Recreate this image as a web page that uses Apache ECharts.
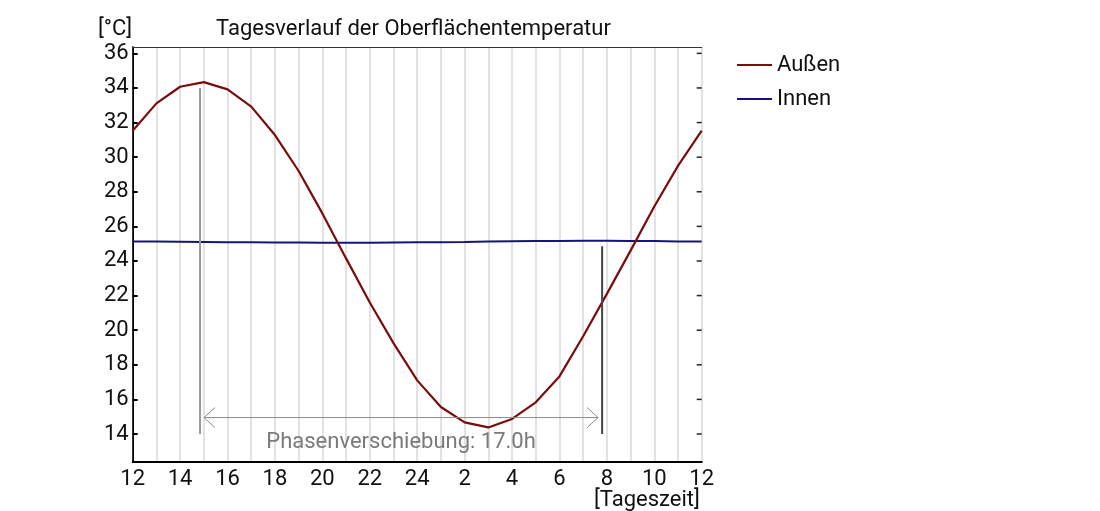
<!DOCTYPE html>
<html>
<head>
<meta charset="utf-8">
<script src="https://cdn.jsdelivr.net/npm/echarts@6/dist/echarts.min.js"></script>
<style>
html, body { margin: 0; padding: 0; background: #fff; }
#chart { width: 1100px; height: 511px; }
</style>
</head>
<body>
<div id="chart"></div>
<script>
// Stunden ab 12 Uhr (0 = 12 Uhr, 24 = 12 Uhr am Folgetag)
var hours = [0, 1, 2, 3, 4, 5, 6, 7, 8, 9, 10, 11, 12, 13, 14, 15, 16, 17, 18, 19, 20, 21, 22, 23, 24];
var aussen = [31.53, 33.11, 34.07, 34.34, 33.92, 32.92, 31.28, 29.2, 26.75, 24.15, 21.6, 19.25, 17.1,
              15.56, 14.67, 14.38, 14.87, 15.83, 17.33, 19.65, 22.1, 24.6, 27.15, 29.5, 31.53];
var innen = [25.12, 25.12, 25.11, 25.1, 25.09, 25.08, 25.07, 25.07, 25.06, 25.06, 25.06, 25.07, 25.08,
             25.09, 25.1, 25.12, 25.14, 25.15, 25.16, 25.17, 25.17, 25.16, 25.15, 25.13, 25.12];
var yTicks = [14, 16, 18, 20, 22, 24, 26, 28, 30, 32, 34, 36];

// Phasenverschiebung (Maximum aussen -> Durchgang innen)
var phaseStart = 2.84;
var phaseEnd = 19.8;
var phaseTop = [34, 24.85];
var phaseBottom = 14;
var arrowY = 14.95;
var phaseLabelY = 13.5;
var phaseText = 'Phasenverschiebung: 17.0h';

var font = 'Roboto, "Noto Sans", sans-serif';
var fs = 22;

function hourLabel(v) {
    if (v % 2) return '';
    var h = 12 + v;
    if (h > 24) h -= 24;
    return String(h);
}

var chart = echarts.init(document.getElementById('chart'));
chart.setOption({
    animation: false,
    backgroundColor: '#fff',
    textStyle: { fontFamily: font },
    title: {
        text: 'Tagesverlauf der Oberflächentemperatur',
        left: 216,
        top: 18,
        padding: 0,
        textStyle: { fontSize: fs, fontWeight: 'normal', color: '#111', fontFamily: font }
    },
    legend: {
        orient: 'vertical',
        left: 737,
        top: 54,
        padding: 0,
        icon: 'rect',
        itemWidth: 35,
        itemHeight: 2,
        itemGap: 12,
        data: ['Außen', 'Innen'],
        textStyle: { fontSize: fs, color: '#111', fontFamily: font }
    },
    graphic: [
        { type: 'text', left: 98, top: 18, style: { text: '[°C]', font: fs + 'px ' + font, fill: '#111' } },
        { type: 'text', left: 594, top: 489, style: { text: '[Tageszeit]', font: fs + 'px ' + font, fill: '#111' } }
    ],
    grid: { left: 132.7, right: 398.3, top: 47.3, bottom: 49.3 },
    xAxis: [
        {
            type: 'value', min: 0, max: 24, interval: 1,
            axisLine: { lineStyle: { color: '#000', width: 2 } },
            axisTick: { show: false },
            axisLabel: { formatter: hourLabel, fontSize: fs, color: '#111', margin: 7 },
            splitLine: { show: true, lineStyle: { color: '#d9d9d9', width: 1.5 } }
        },
        {
            type: 'value', min: 0, max: 24, position: 'top',
            axisLine: { show: true, lineStyle: { color: '#333', width: 1 } },
            axisTick: { show: false }, axisLabel: { show: false }, splitLine: { show: false }
        }
    ],
    yAxis: [
        {
            type: 'value', min: 12.4, max: 36.35,
            axisLine: { show: true, lineStyle: { color: '#000', width: 2 } },
            axisTick: { show: true, inside: true, length: 5, customValues: yTicks, lineStyle: { color: '#000', width: 2 } },
            axisLabel: { customValues: yTicks, fontSize: fs, color: '#111', margin: 4 },
            splitLine: { show: false }
        },
        {
            type: 'value', min: 12.4, max: 36.35, position: 'right',
            axisLine: { show: true, lineStyle: { color: '#333', width: 1 } },
            axisTick: { show: false },
            axisLabel: { show: false },
            splitLine: { show: false }
        }
    ],
    series: [
        {
            name: 'Innen', type: 'line', symbol: 'none',
            lineStyle: { color: '#14147a', width: 2 }, itemStyle: { color: '#14147a' },
            data: hours.map(function (h, i) { return [h, innen[i]]; })
        },
        {
            name: 'Außen', type: 'line', symbol: 'none',
            lineStyle: { color: '#7a0c0c', width: 2.2 }, itemStyle: { color: '#7a0c0c' },
            data: hours.map(function (h, i) { return [h, aussen[i]]; }),
            z: 3
        },
        {
            // Ticks am rechten Rahmen
            name: 'rightTicks', type: 'custom', silent: true, z: 5,
            data: yTicks.map(function (v) { return [24, v]; }),
            renderItem: function (params, api) {
                var p = api.coord([api.value(0), api.value(1)]);
                return { type: 'line', shape: { x1: p[0] - 5, y1: p[1], x2: p[0], y2: p[1] }, style: { stroke: '#222', lineWidth: 1.5 } };
            }
        },
        {
            name: 'phase', type: 'custom', silent: true, z: 4,
            data: [[phaseStart, phaseEnd]],
            renderItem: function (params, api) {
                var a = api.coord([phaseStart, phaseTop[0]]);
                var a2 = api.coord([phaseStart, phaseBottom]);
                var b = api.coord([phaseEnd, phaseTop[1]]);
                var b2 = api.coord([phaseEnd, phaseBottom]);
                var y = api.coord([phaseStart, arrowY])[1];
                var l = a[0] + 4, r = b[0] - 4;
                var t = api.coord([(phaseStart + phaseEnd) / 2, phaseLabelY]);
                var grey = { stroke: '#8a8a8a', lineWidth: 1, fill: null };
                return {
                    type: 'group',
                    children: [
                        { type: 'line', shape: { x1: a[0], y1: a[1], x2: a2[0], y2: a2[1] }, style: { stroke: '#9a9a9a', lineWidth: 2 } },
                        { type: 'line', shape: { x1: b[0], y1: b[1], x2: b2[0], y2: b2[1] }, style: { stroke: '#444', lineWidth: 2 } },
                        { type: 'line', shape: { x1: l, y1: y, x2: r, y2: y }, style: grey },
                        { type: 'polyline', shape: { points: [[l + 11, y - 10], [l, y], [l + 11, y + 10]] }, style: grey },
                        { type: 'polyline', shape: { points: [[r - 11, y - 10], [r, y], [r - 11, y + 10]] }, style: grey },
                        { type: 'text', x: t[0], y: t[1], style: { text: phaseText, font: fs + 'px ' + font, fill: '#7a7a7a', align: 'center', verticalAlign: 'middle' } }
                    ]
                };
            }
        }
    ]
});
</script>
</body>
</html>
